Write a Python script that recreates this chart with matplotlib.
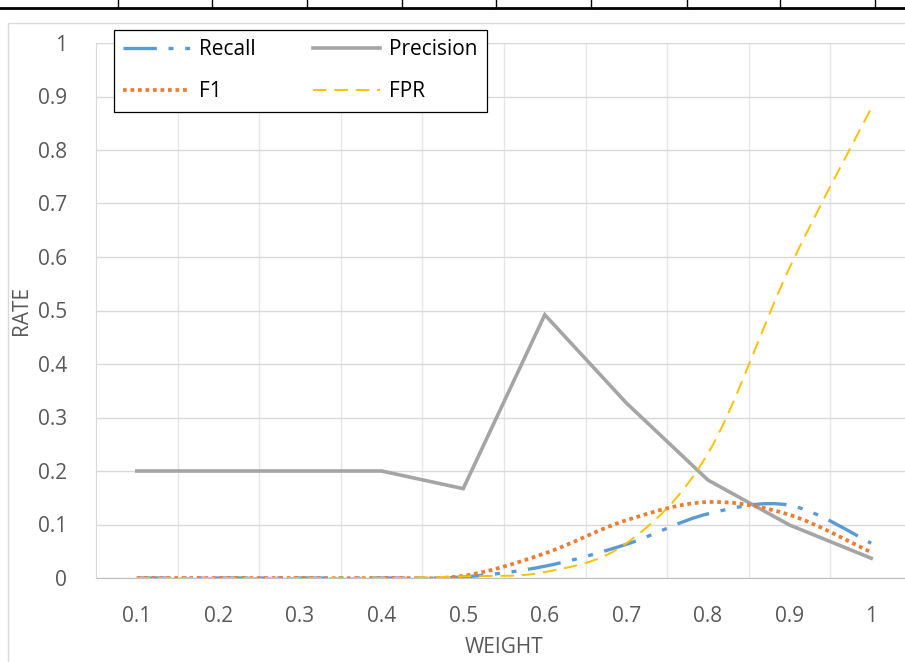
import numpy as np
import matplotlib
matplotlib.use("Agg")
import matplotlib.pyplot as plt
from matplotlib.path import Path
from matplotlib.patches import PathPatch, Rectangle
from matplotlib.lines import Line2D

plt.rcParams['font.family'] = ['Open Sans', 'DejaVu Sans']

# data
weight = ["0.1", "0.2", "0.3", "0.4", "0.5", "0.6", "0.7", "0.8", "0.9", "1"]
recall = [0.0, 0.0, 0.0, 0.0, 0.002, 0.022, 0.063, 0.12, 0.136, 0.065]
precision = [0.2, 0.2, 0.2, 0.2, 0.167, 0.492, 0.327, 0.183, 0.099, 0.037]
f1 = [0.0, 0.0, 0.0, 0.0, 0.004, 0.046, 0.108, 0.142, 0.118, 0.048]
fpr = [0.0, 0.0, 0.0, 0.0, 0.003, 0.011, 0.065, 0.233, 0.58, 0.878]

BLUE = '#5B9BD5'
GRAY = '#A5A5A5'
ORANGE = '#ED7D31'
YELLOW = '#FFC000'
TXT = '#595959'

RECALL_LS = (0, (10, 3.5, 1.5, 3.5, 1.5, 3.5))
F1_LS = (0, (1, 1))
FPR_LS = (0, (7, 4))


def smooth_path(xs, ys):
    """excel-like smoothed line as bezier curve (catmull-rom)"""
    pts = np.column_stack([xs, ys]).astype(float)
    n = len(pts)
    verts = [pts[0]]
    codes = [Path.MOVETO]
    for i in range(n - 1):
        p0 = pts[i - 1] if i > 0 else pts[i]
        p1 = pts[i]
        p2 = pts[i + 1]
        p3 = pts[i + 2] if i + 2 < n else pts[i + 1]
        verts += [p1 + (p2 - p0) / 6.0, p2 - (p3 - p1) / 6.0, p2]
        codes += [Path.CURVE4] * 3
    return Path(verts, codes)


fig = plt.figure(figsize=(9.05, 6.62), dpi=100)

# table edge above the chart + chart area border
fig.add_artist(Line2D([0, 1], [1 - 8 / 662, 1 - 8 / 662], color='black', lw=2))
for px in [118, 212, 307, 402, 496, 591, 687, 780, 875]:
    fig.add_artist(Line2D([px / 905, px / 905], [1 - 8 / 662, 1], color='black', lw=1))
fig.add_artist(Rectangle((8 / 905, -0.1), 1.2, 1.1 - 23 / 662, transform=fig.transFigure,
                         fill=False, edgecolor='#d9d9d9', lw=1))

ax = fig.add_axes([96 / 905, 1 - 578 / 662, 816 / 905, 535 / 662])
x = np.arange(1, len(weight) + 1)

ax.plot(x, precision, color=GRAY, lw=2.6, solid_joinstyle='miter', zorder=3)
styles = [
    (recall, BLUE, 2.4, RECALL_LS),
    (f1, ORANGE, 2.7, F1_LS),
    (fpr, YELLOW, 1.4, FPR_LS),
]
for ys, col, lw, ls in styles:
    ax.add_patch(PathPatch(smooth_path(x, ys), fill=False, edgecolor=col, lw=lw,
                           linestyle=ls, capstyle='butt', zorder=4))

ax.set_xlim(0.5, len(weight) + 0.5)
ax.set_ylim(0, 1)
ax.set_xticks(x)
ax.set_xticklabels(weight)
ax.set_yticks(np.arange(0, 1.01, 0.1))
ax.set_yticklabels(["0", "0.1", "0.2", "0.3", "0.4", "0.5", "0.6", "0.7", "0.8", "0.9", "1"])
ax.set_xticks(np.arange(1.5, len(weight), 1), minor=True)
ax.tick_params(which='both', length=0)
ax.tick_params(axis='y', pad=21, labelsize=15, labelcolor=TXT)
ax.tick_params(axis='x', pad=20, labelsize=15, labelcolor=TXT)
ax.grid(axis='y', which='major', color='#d9d9d9', lw=1)
ax.grid(axis='x', which='minor', color='#e6e6e6', lw=1)
ax.set_axisbelow(True)
for s in ['top', 'right']:
    ax.spines[s].set_visible(False)
ax.spines['left'].set_color('#d9d9d9')
ax.spines['bottom'].set_color('#bfbfbf')
ax.spines['bottom'].set_zorder(2)

ax.set_ylabel("RATE", fontsize=15, color=TXT)
ax.yaxis.set_label_coords(-0.078, 0.5)
ax.set_xlabel("WEIGHT", fontsize=15, color=TXT)
ax.xaxis.set_label_coords(0.5, -0.11)

handles = [
    Line2D([], [], color=BLUE, lw=2.4, linestyle=RECALL_LS),
    Line2D([], [], color=GRAY, lw=2.6),
    Line2D([], [], color=ORANGE, lw=2.7, linestyle=F1_LS),
    Line2D([], [], color=YELLOW, lw=1.4, linestyle=FPR_LS),
]
labels = ["Recall", "Precision", "F1", "FPR"]
order = [0, 2, 1, 3]
leg = fig.legend([handles[i] for i in order], [labels[i] for i in order], ncol=2,
                 loc='upper left', bbox_to_anchor=(114 / 905, 1 - 30 / 662),
                 borderaxespad=0, fontsize=15, handlelength=3.2, columnspacing=2.75,
                 labelspacing=1.0, borderpad=0.45, handletextpad=0.45,
                 fancybox=False, framealpha=1)
leg.get_frame().set_edgecolor('black')
leg.get_frame().set_linewidth(0.9)

fig.savefig("out.png", dpi=100)
